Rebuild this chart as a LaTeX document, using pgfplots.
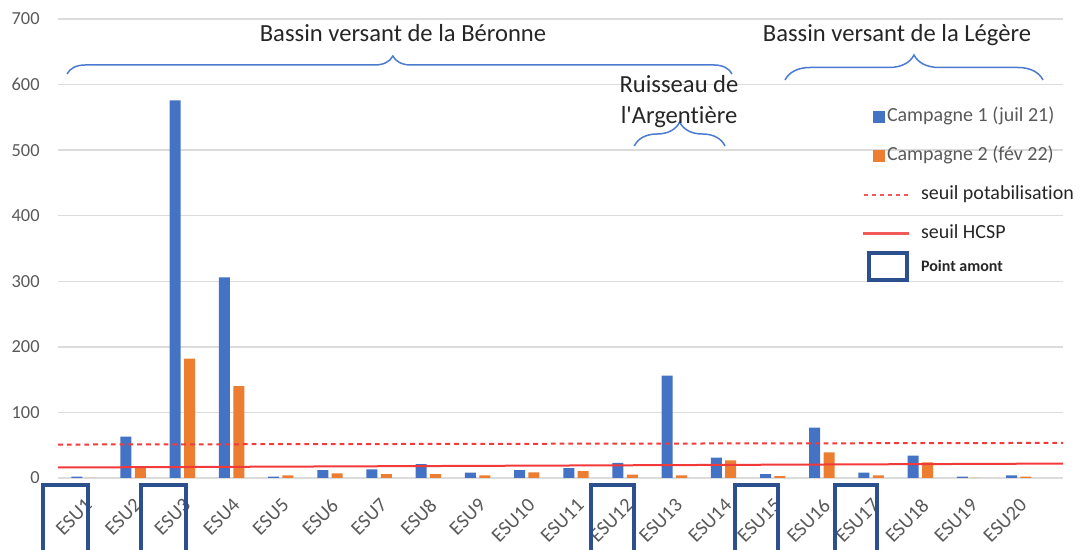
\documentclass[border=0pt]{standalone}
\usepackage{fontspec}
\setmainfont{Carlito}[Ligatures=NoCommon]
\newfontfamily\plainfont{Carlito}[Ligatures=NoCommon]
\usepackage{pgfplots}
\pgfplotsset{compat=1.18}
\usetikzlibrary{decorations.pathreplacing}
\definecolor{c1}{HTML}{4472C4}
\definecolor{c2}{HTML}{ED7D31}
\definecolor{redl}{HTML}{F23A3A}
\definecolor{redd}{HTML}{F25A5A}
\definecolor{boxc}{HTML}{2C4F8E}
\definecolor{bracec}{HTML}{4A7BD0}
\definecolor{gridc}{HTML}{DCDCDC}
\definecolor{tickc}{HTML}{595959}
\definecolor{txtc}{HTML}{262626}
\begin{document}
\begin{tikzpicture}
\path[use as bounding box] (0,0) rectangle (541pt,275pt);
\clip (0,0) rectangle (541pt,275pt);
\begin{axis}[
  at={(29pt,36pt)}, anchor=south west, scale only axis,
  width=502.5pt, height=229.5pt,
  xmin=-0.528, xmax=19.9, ymin=0, ymax=700,
  ytick={0,100,...,700},
  xtick={0,...,19},
  xticklabels={ESU1,ESU2,ESU3,ESU4,ESU5,ESU6,ESU7,ESU8,ESU9,ESU10,ESU11,ESU12,ESU13,ESU14,ESU15,ESU16,ESU17,ESU18,ESU19,ESU20},
  ymajorgrids, grid style={draw=gridc, line width=0.7pt},
  axis line style={draw=none}, major tick length=0pt,
  /pgf/number format/assume math mode=true,
  y tick label style={font=\fontsize{9.2}{11}\selectfont, text=tickc, inner sep=0pt, xshift=-9pt},
  x tick label style={font=\fontsize{10}{12}\selectfont, text=tickc, inner sep=0pt, yshift=-9.5pt, rotate=45, anchor=north east},
  legend cell align=left,
  legend style={at={(0.801,0.8068)}, anchor=north west, draw=none, fill=none,
    inner sep=0pt, outer sep=0pt, row sep=10.5pt,
    font=\fontsize{10}{12}\selectfont,
    nodes={text height=7pt, text depth=2pt, inner sep=0pt}},
]
\addplot[ybar, bar width=5.5pt, bar shift=-3.6pt, fill=c1, draw=none,
  legend image code/.code={\fill[c1] (4.5pt,-3pt) rectangle (10.5pt,3pt);}]
  coordinates {(0,2) (1,63) (2,576) (3,306) (4,2) (5,12) (6,13) (7,21) (8,8) (9,12)
   (10,15) (11,23) (12,156) (13,31) (14,6) (15,77) (16,8) (17,34) (18,2) (19,4)};
\addlegendentry{\hspace*{-11pt}\textcolor{tickc}{Campagne 1 (juil 21)}}
\addplot[ybar, bar width=5.5pt, bar shift=3.6pt, fill=c2, draw=none,
  legend image code/.code={\fill[c2] (4.5pt,-3pt) rectangle (10.5pt,3pt);}]
  coordinates {(0,0) (1,17) (2,182) (3,140) (4,4) (5,7) (6,6) (7,6) (8,4) (9,8.5)
   (10,10.5) (11,5) (12,4) (13,27) (14,3) (15,39) (16,4) (17,24) (18,0) (19,2)};
\addlegendentry{\hspace*{-11pt}\textcolor{tickc}{Campagne 2 (fév 22)}}
\addplot[sharp plot, no marks, draw=redl, line width=1pt, dash pattern=on 2.4pt off 2pt,
  legend image code/.code={\draw[draw=redd, line width=0.9pt, dash pattern=on 2.2pt off 1.8pt] (0pt,0pt) -- (22pt,0pt);}]
  coordinates {(-0.528,51) (19.9,53.5)};
\addlegendentry{\hspace*{6pt}\textcolor{txtc}{seuil potabilisation}}
\addplot[sharp plot, no marks, draw=redl, line width=1pt,
  legend image code/.code={\fill[redd] (0pt,-0.35pt) rectangle (22pt,0.35pt);}]
  coordinates {(-0.528,16) (19.9,22)};
\addlegendentry{\hspace*{6pt}\textcolor{txtc}{seuil HCSP}}
\addlegendimage{legend image code/.code={\draw[draw=boxc, solid, line width=2pt, overlay] (2.5pt,-3.75pt) rectangle (21.5pt,9.75pt);}}
\addlegendentry{\hspace*{6pt}\raisebox{3pt}{\fontsize{8}{9}\selectfont\bfseries\textcolor{txtc}{Point amont}}}
\end{axis}
\begin{scope}[shift={(0pt,275pt)}, x=0.5pt, y=-0.5pt]
  \foreach \a/\b in {43/88.4, 141.3/185.5, 591.2/633.8, 734.5/778.3, 834.5/877.2}
    \draw[boxc, line width=2pt] (\a,485) rectangle (\b,570);
  \draw[bracec, line width=0.75pt, decorate, decoration={brace, amplitude=9pt, aspect=0.49}] (67,74) -- (732,74);
  \draw[bracec, line width=0.75pt, decorate, decoration={brace, amplitude=12.5pt}] (785,80) -- (1043,80);
  \draw[bracec, line width=0.75pt, decorate, decoration={brace, amplitude=12pt}] (634.3,146) -- (725,146);
  \node[text=txtc, font=\fontsize{12.3}{15}\selectfont, inner sep=0pt] at (403,33) {Bassin versant de la Béronne};
  \node[text=txtc, font=\fontsize{12.3}{15}\selectfont, inner sep=0pt] at (897,35) {Bassin versant de la Légère};
  \node[text=txtc, font=\plainfont\fontsize{12.3}{15.5}\selectfont, inner sep=0pt, align=center] at (679,101.5) {Ruisseau de\\l'Argentière};
\end{scope}
\end{tikzpicture}
\end{document}
